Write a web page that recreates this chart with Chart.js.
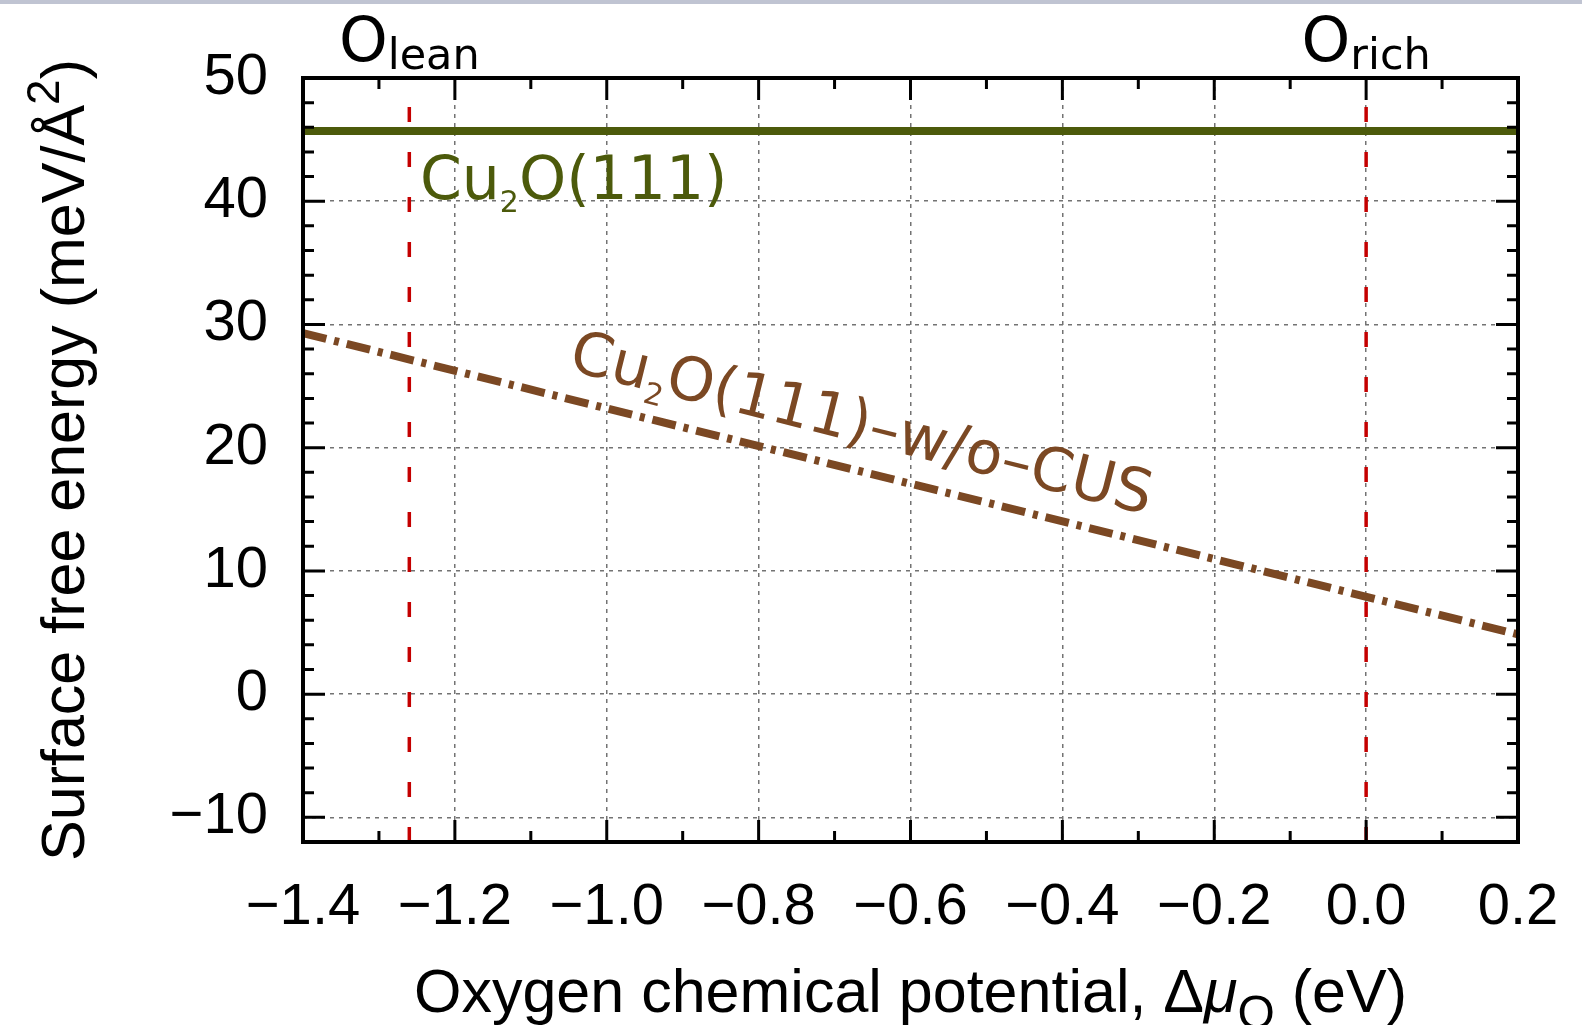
<!DOCTYPE html>
<html>
<head>
<meta charset="utf-8">
<script src="https://cdn.jsdelivr.net/npm/chart.js@4.4.0/dist/chart.umd.min.js"></script>
<style>
html, body { margin: 0; padding: 0; background: #fff; }
#franja { position: absolute; left: 0; top: 0; width: 1582px; height: 4px; background: #c0c4d2; }
#grafica { position: absolute; left: 0; top: 0; }
</style>
</head>
<body>
<canvas id="grafica" width="1582" height="1025"></canvas>
<div id="franja"></div>
<script>
// ======================
// DATOS
// ======================
const muO = [-1.4, 0.2];
const energiaCu2O = [45.7, 45.7];
const energiaSinCUS = [29.3, 4.85];
const limitesMu = [-1.26, 0.0];      // O-lean, O-rich
const rangoY = [-12, 50];
const ticksX = [-1.4, -1.2, -1.0, -0.8, -0.6, -0.4, -0.2, 0.0, 0.2];
const ticksY = [-10, 0, 10, 20, 30, 40, 50];
const pasoMenorX = 0.1;
const pasoMenorY = 2;

const VERDE = "#4c5a0b";
const CAFE = "#7b4823";
const ROJO = "#c40000";

const fuenteEje = '"Liberation Sans", Arial, sans-serif';
const fuenteEtiqueta = '"DejaVu Sans", sans-serif';

function puntos(xs, ys) {
    return xs.map((x, i) => ({ x: x, y: ys[i] }));
}

function menos(txt) {
    return txt.replace("-", "\u2212");
}

// texto con partes (sub/superindices): [texto, fuente, dy]
function textoCompuesto(ctx, partes, x, y, centrado) {
    let total = 0;
    partes.forEach(p => { ctx.font = p[1]; total += ctx.measureText(p[0]).width; });
    let cx = centrado ? x - total / 2 : x;
    partes.forEach(p => {
        ctx.font = p[1];
        ctx.fillText(p[0], cx, y + (p[2] || 0));
        cx += ctx.measureText(p[0]).width;
    });
}

// ======================
// MARCO, TICKS Y ETIQUETAS
// ======================
const marco = {
    id: "marco",
    afterDatasetsDraw(chart) {
        const ctx = chart.ctx;
        const a = chart.chartArea;
        const sx = chart.scales.x;
        const sy = chart.scales.y;
        ctx.save();
        ctx.strokeStyle = "#000";
        ctx.lineWidth = 3;
        ctx.beginPath();
        const nx = Math.round((muO[1] - muO[0]) / pasoMenorX);
        for (let i = 0; i <= nx; i++) {
            const v = muO[0] + i * pasoMenorX;
            const px = sx.getPixelForValue(v);
            const largo = (i % 2 === 0) ? 22 : 11;
            ctx.moveTo(px, a.bottom); ctx.lineTo(px, a.bottom - largo);
            ctx.moveTo(px, a.top); ctx.lineTo(px, a.top + largo);
        }
        for (let v = rangoY[0]; v <= rangoY[1]; v += pasoMenorY) {
            const py = sy.getPixelForValue(v);
            const largo = (v % 10 === 0) ? 22 : 11;
            ctx.moveTo(a.left, py); ctx.lineTo(a.left + largo, py);
            ctx.moveTo(a.right, py); ctx.lineTo(a.right - largo, py);
        }
        ctx.stroke();
        ctx.lineWidth = 4;
        ctx.strokeRect(a.left, a.top, a.right - a.left, a.bottom - a.top);
        ctx.restore();
    },
    afterDraw(chart) {
        const ctx = chart.ctx;
        const a = chart.chartArea;
        const sx = chart.scales.x;
        const sy = chart.scales.y;
        ctx.save();
        ctx.textAlign = "left";
        ctx.textBaseline = "alphabetic";

        // titulos de ejes
        ctx.fillStyle = "#000";
        textoCompuesto(ctx, [
            ["Oxygen chemical potential, \u0394", "61px " + fuenteEje],
            ["\u03bc", "italic 61px " + fuenteEje],
            ["O", "48px " + fuenteEje, 17],
            [" (eV)", "61px " + fuenteEje]
        ], (a.left + a.right) / 2, 1012, true);

        ctx.save();
        ctx.translate(84, (a.top + a.bottom) / 2);
        ctx.rotate(-Math.PI / 2);
        textoCompuesto(ctx, [
            ["Surface free energy (meV/\u00c5", "61px " + fuenteEje],
            ["2", "46px " + fuenteEje, -25],
            [")", "61px " + fuenteEje]
        ], 0, 0, true);
        ctx.restore();

        // O lean / O rich
        textoCompuesto(ctx, [["O", "62px " + fuenteEtiqueta], ["lean", "43px " + fuenteEtiqueta, 8]],
            sx.getPixelForValue(limitesMu[0]), a.top - 17, true);
        textoCompuesto(ctx, [["O", "62px " + fuenteEtiqueta], ["rich", "43px " + fuenteEtiqueta, 8]],
            sx.getPixelForValue(limitesMu[1]), a.top - 17, true);

        // etiquetas de las curvas
        ctx.fillStyle = VERDE;
        textoCompuesto(ctx, [
            ["Cu", "60px " + fuenteEtiqueta], ["2", "30px " + fuenteEtiqueta, 13], ["O(111)", "60px " + fuenteEtiqueta]
        ], sx.getPixelForValue(-1.246), sy.getPixelForValue(40.2), false);

        ctx.fillStyle = CAFE;
        ctx.save();
        ctx.translate(sx.getPixelForValue(-1.052), sy.getPixelForValue(26.3));
        ctx.rotate(14 * Math.PI / 180);
        textoCompuesto(ctx, [
            ["Cu", "60px " + fuenteEtiqueta], ["2", "30px " + fuenteEtiqueta, 13],
            ["O(111)\u2013w/o\u2013CUS", "60px " + fuenteEtiqueta]
        ], 0, 0, false);
        ctx.restore();

        ctx.restore();
    }
};

// ======================
// GRAFICA
// ======================
const ctx = document.getElementById("grafica").getContext("2d");

new Chart(ctx, {
    type: "line",
    data: {
        datasets: [
            {
                label: "Cu2O(111)",
                data: puntos(muO, energiaCu2O),
                borderColor: VERDE,
                borderWidth: 8,
                pointRadius: 0,
                clip: 0,
                order: 1
            },
            {
                label: "Cu2O(111)-w/o-CUS",
                data: puntos(muO, energiaSinCUS),
                borderColor: CAFE,
                borderWidth: 8,
                borderDash: [24, 8, 5, 8],
                borderCapStyle: "butt",
                pointRadius: 0,
                clip: 0,
                order: 2
            },
            {
                label: "O-lean",
                data: puntos([limitesMu[0], limitesMu[0]], rangoY),
                borderColor: ROJO,
                borderWidth: 3.5,
                borderDash: [15, 30],
                pointRadius: 0,
                clip: 0,
                order: 3
            },
            {
                label: "O-rich",
                data: puntos([limitesMu[1], limitesMu[1]], rangoY),
                borderColor: ROJO,
                borderWidth: 3.5,
                borderDash: [15, 30],
                pointRadius: 0,
                clip: 0,
                order: 3
            }
        ]
    },
    options: {
        responsive: false,
        animation: false,
        devicePixelRatio: 1,
        parsing: false,
        layout: { padding: { left: 0, top: 78, right: 64, bottom: 0 } },
        plugins: {
            legend: { display: false },
            tooltip: { enabled: false }
        },
        scales: {
            x: {
                type: "linear",
                min: muO[0],
                max: muO[1],
                afterBuildTicks: s => { s.ticks = ticksX.map(v => ({ value: v })); },
                afterFit: s => { s.height = 183; s.paddingLeft = 0; s.paddingRight = 0; },
                ticks: {
                    font: { family: fuenteEje, size: 58 },
                    color: "#000",
                    padding: 31,
                    maxRotation: 0,
                    autoSkip: false,
                    callback: v => menos(Number(v).toFixed(1))
                },
                grid: { color: "#737373", lineWidth: 1.5, drawTicks: false },
                border: { display: false, dash: [4, 5] }
            },
            y: {
                type: "linear",
                min: rangoY[0],
                max: rangoY[1],
                afterBuildTicks: s => { s.ticks = ticksY.map(v => ({ value: v })); },
                afterFit: s => { s.width = 303; s.paddingTop = 0; s.paddingBottom = 0; },
                ticks: {
                    font: { family: fuenteEje, size: 58 },
                    color: "#000",
                    padding: 35,
                    callback: v => menos(String(v))
                },
                grid: { color: "#737373", lineWidth: 1.5, drawTicks: false },
                border: { display: false, dash: [4, 5] }
            }
        }
    },
    plugins: [marco]
});
</script>
</body>
</html>
